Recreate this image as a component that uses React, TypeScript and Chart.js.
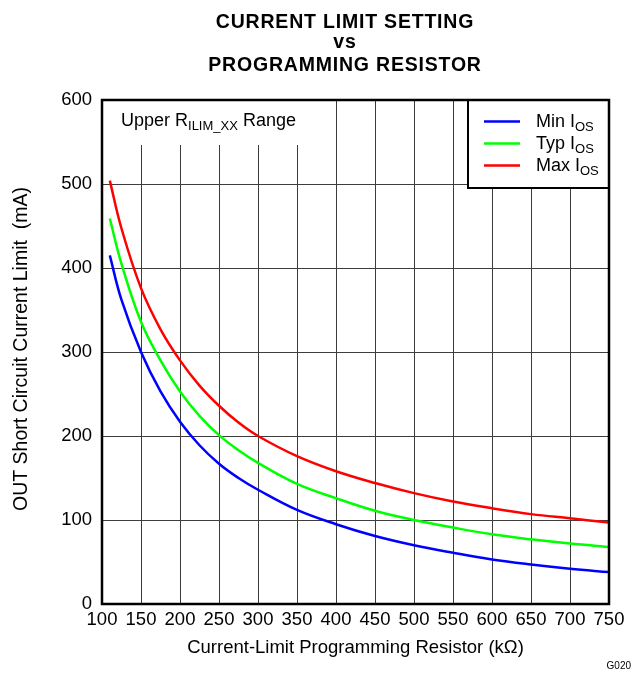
import React, { useEffect, useRef } from "react";
import { Chart, registerables } from "chart.js";

Chart.register(...registerables);

const resistanceKOhm = [110, 125, 150, 175, 200, 225, 250, 275, 300, 350, 400, 450, 500, 550, 600, 650, 700, 750];
const minIos = [415, 362, 300, 253, 217, 189, 167, 150, 136, 112, 95, 81, 70, 61, 53, 47, 42, 38];
const typIos = [459, 405, 336, 290, 253, 224, 201, 183, 168, 143, 126, 111, 100, 91, 83, 77, 72, 68];
const maxIos = [504, 447, 376, 327, 290, 260, 236, 216, 200, 176, 158, 144, 132, 122, 114, 107, 102, 97];

const xTickValues = [100, 150, 200, 250, 300, 350, 400, 450, 500, 550, 600, 650, 700, 750];
const yTickValues = [0, 100, 200, 300, 400, 500, 600];

const seriesNames = ["Min I", "Typ I", "Max I"];
const seriesSub = "OS";
const seriesColors = ["#0000ff", "#00ff00", "#ff0000"];

const titleLines = ["CURRENT LIMIT SETTING", "vs", "PROGRAMMING RESISTOR"];
const xTitle = "Current-Limit Programming Resistor (kΩ)";
const yTitle = "OUT Short Circuit Current Limit  (mA)";
const noteMain = "Upper R";
const noteSub = "ILIM_XX";
const noteTail = " Range";
const figId = "G020";

const FONT = "'Liberation Sans', Arial, Helvetica, sans-serif";

export default function App() {
  const ref = useRef<HTMLCanvasElement>(null);

  useEffect(() => {
    const canvas = ref.current;
    if (!canvas) return;

    const overlay = {
      id: "overlay",
      beforeDatasetsDraw(chart: any) {
        const ctx = chart.ctx as CanvasRenderingContext2D;
        const a = chart.chartArea;
        ctx.save();
        ctx.fillStyle = "#ffffff";
        ctx.fillRect(a.left + 1, a.top + 1, 320 - a.left, 144 - a.top);
        ctx.fillStyle = "#000";
        ctx.textBaseline = "alphabetic";
        ctx.textAlign = "left";
        ctx.font = `18px ${FONT}`;
        let x = 121;
        ctx.fillText(noteMain, x, 126);
        x += ctx.measureText(noteMain).width;
        ctx.font = `13px ${FONT}`;
        ctx.fillText(noteSub, x, 130);
        x += ctx.measureText(noteSub).width;
        ctx.font = `18px ${FONT}`;
        ctx.fillText(noteTail, x, 126);

        ctx.fillStyle = "#ffffff";
        ctx.fillRect(468, a.top, a.right - 468, 188 - a.top);
        for (let i = 0; i < seriesNames.length; i++) {
          const ly = 121.5 + i * 22;
          ctx.strokeStyle = seriesColors[i];
          ctx.lineWidth = 2.5;
          ctx.beginPath();
          ctx.moveTo(484, ly);
          ctx.lineTo(520, ly);
          ctx.stroke();
          ctx.fillStyle = "#000";
          ctx.font = `18px ${FONT}`;
          ctx.fillText(seriesNames[i], 536, ly + 5);
          const w = ctx.measureText(seriesNames[i]).width;
          ctx.font = `13px ${FONT}`;
          ctx.fillText(seriesSub, 536 + w, ly + 9);
        }
        ctx.restore();
      },
      afterDraw(chart: any) {
        const ctx = chart.ctx as CanvasRenderingContext2D;
        const a = chart.chartArea;
        ctx.save();
        ctx.strokeStyle = "#000";
        ctx.lineWidth = 2.5;
        ctx.strokeRect(a.left, a.top, a.right - a.left, a.bottom - a.top);
        ctx.lineWidth = 2;
        ctx.strokeRect(468, a.top, a.right - 468, 188 - a.top);

        ctx.fillStyle = "#000";
        ctx.textAlign = "center";
        ctx.textBaseline = "alphabetic";
        ctx.font = `bold 19.5px ${FONT}`;
        (ctx as any).letterSpacing = "0.8px";
        const baselines = [27.5, 48, 71];
        titleLines.forEach((t, i) => ctx.fillText(t, 345, baselines[i]));
        (ctx as any).letterSpacing = "0px";

        ctx.font = `18.5px ${FONT}`;
        ctx.textBaseline = "middle";
        ctx.fillText(xTitle, (a.left + a.right) / 2, 648);

        ctx.save();
        ctx.translate(22, 349);
        ctx.rotate(-Math.PI / 2);
        ctx.font = `19.5px ${FONT}`;
        ctx.fillText(yTitle, 0, 0);
        ctx.restore();

        ctx.font = `10px ${FONT}`;
        ctx.textAlign = "right";
        ctx.textBaseline = "alphabetic";
        ctx.fillText(figId, 631, 669);
        ctx.restore();
      },
    };

    const mk = (ys: number[]) => resistanceKOhm.map((x, i) => ({ x, y: ys[i] }));
    const seriesData = [minIos, typIos, maxIos];

    const chart = new Chart(canvas, {
      type: "line",
      data: {
        datasets: seriesData.map((ys, i) => ({
          label: seriesNames[i] + seriesSub,
          data: mk(ys),
          borderColor: seriesColors[i],
          backgroundColor: seriesColors[i],
          borderWidth: 2.5,
          pointRadius: 0,
          fill: false,
          tension: 0.4,
        })),
      },
      options: {
        animation: false,
        responsive: false,
        devicePixelRatio: 1,
        layout: { padding: { top: 100, right: 27, left: 0, bottom: 0 } },
        plugins: {
          legend: { display: false },
          title: { display: false },
          tooltip: { enabled: false },
        },
        scales: {
          x: {
            type: "linear",
            min: 100,
            max: 750,
            afterBuildTicks: (s: any) => {
              s.ticks = xTickValues.map((v) => ({ value: v }));
            },
            afterFit: (s: any) => {
              s.height = 69;
            },
            ticks: {
              color: "#000",
              font: { family: FONT, size: 18.5 },
              padding: 5,
              maxRotation: 0,
              autoSkip: false,
            },
            grid: { color: "#3c3c3c", lineWidth: 1, drawTicks: false },
            border: { display: false },
          },
          y: {
            type: "linear",
            min: 0,
            max: 600,
            afterBuildTicks: (s: any) => {
              s.ticks = yTickValues.map((v) => ({ value: v }));
            },
            afterFit: (s: any) => {
              s.width = 102;
            },
            ticks: {
              color: "#000",
              font: { family: FONT, size: 18.5 },
              padding: 10,
            },
            grid: { color: "#3c3c3c", lineWidth: 1, drawTicks: false },
            border: { display: false },
          },
        },
      },
      plugins: [overlay],
    });

    return () => chart.destroy();
  }, []);

  return (
    <canvas
      ref={ref}
      width={636}
      height={673}
      style={{ position: "absolute", left: 0, top: 0, display: "block", background: "#fff" }}
    />
  );
}
